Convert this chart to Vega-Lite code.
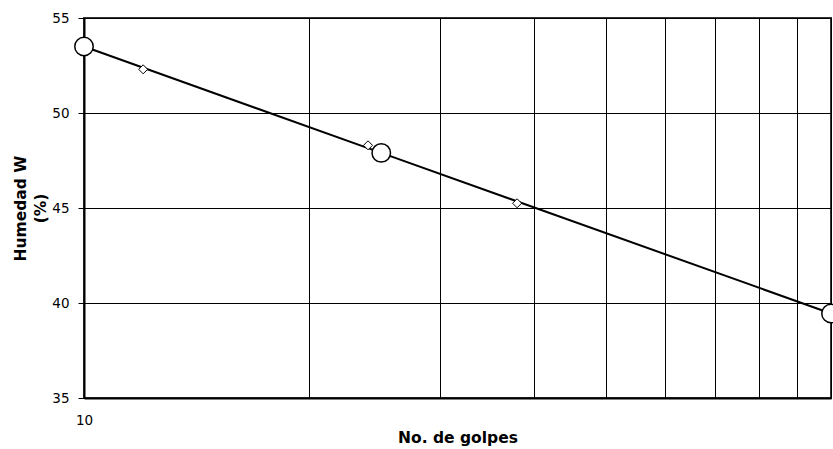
{
  "$schema": "https://vega.github.io/schema/vega-lite/v6.json",
  "autosize": "none",
  "width": 747,
  "height": 380,
  "padding": {"left": 84, "top": 18, "right": 2, "bottom": 51},
  "background": "white",
  "config": {
    "view": {"stroke": "#333", "strokeWidth": 2},
    "font": "DejaVu Sans",
    "axis": {
      "labelFont": "DejaVu Sans",
      "titleFont": "DejaVu Sans",
      "labelColor": "#000",
      "titleColor": "#000",
      "labelFontSize": 13.5,
      "titleFontSize": 15.5,
      "titleFontWeight": "bold",
      "domainColor": "#000",
      "domainWidth": 2,
      "gridColor": "#000",
      "gridOpacity": 1,
      "gridWidth": 1,
      "tickColor": "#000"
    }
  },
  "data": {
    "values": [
      {"golpes": 10, "humedad": 53.5, "tipo": "recta"},
      {"golpes": 25, "humedad": 47.9, "tipo": "recta"},
      {"golpes": 100, "humedad": 39.45, "tipo": "recta"},
      {"golpes": 12, "humedad": 52.3, "tipo": "ensayo"},
      {"golpes": 24, "humedad": 48.3, "tipo": "ensayo"},
      {"golpes": 38, "humedad": 45.25, "tipo": "ensayo"}
    ]
  },
  "encoding": {
    "x": {
      "field": "golpes",
      "type": "quantitative",
      "scale": {"type": "log", "domain": [10, 100], "nice": false},
      "axis": {
        "title": "No. de golpes",
        "values": [10, 20, 30, 40, 50, 60, 70, 80, 90, 100],
        "labelExpr": "datum.value == 10 ? '10' : ''",
        "labelFlush": false,
        "ticks": false,
        "labelPadding": 15,
        "titlePadding": 4,
        "grid": true
      }
    },
    "y": {
      "field": "humedad",
      "type": "quantitative",
      "scale": {"domain": [35, 55], "nice": false, "zero": false},
      "axis": {
        "title": ["Humedad W", "(%)"],
        "titleLineHeight": 20,
        "values": [35, 40, 45, 50, 55],
        "tickSize": 6,
        "labelPadding": 9,
        "titlePadding": 3,
        "grid": true
      }
    }
  },
  "layer": [
    {
      "transform": [{"filter": "datum.tipo == 'recta'"}],
      "mark": {"type": "line", "color": "#000", "strokeWidth": 2, "clip": false}
    },
    {
      "transform": [{"filter": "datum.tipo == 'ensayo'"}],
      "mark": {"type": "point", "shape": "diamond", "filled": true, "fill": "white", "stroke": "#000", "strokeWidth": 1, "size": 81, "opacity": 1}
    },
    {
      "transform": [{"filter": "datum.tipo == 'recta'"}],
      "mark": {"type": "point", "shape": "circle", "filled": true, "fill": "white", "stroke": "#000", "strokeWidth": 1.5, "size": 340, "opacity": 1, "clip": false}
    }
  ]
}
